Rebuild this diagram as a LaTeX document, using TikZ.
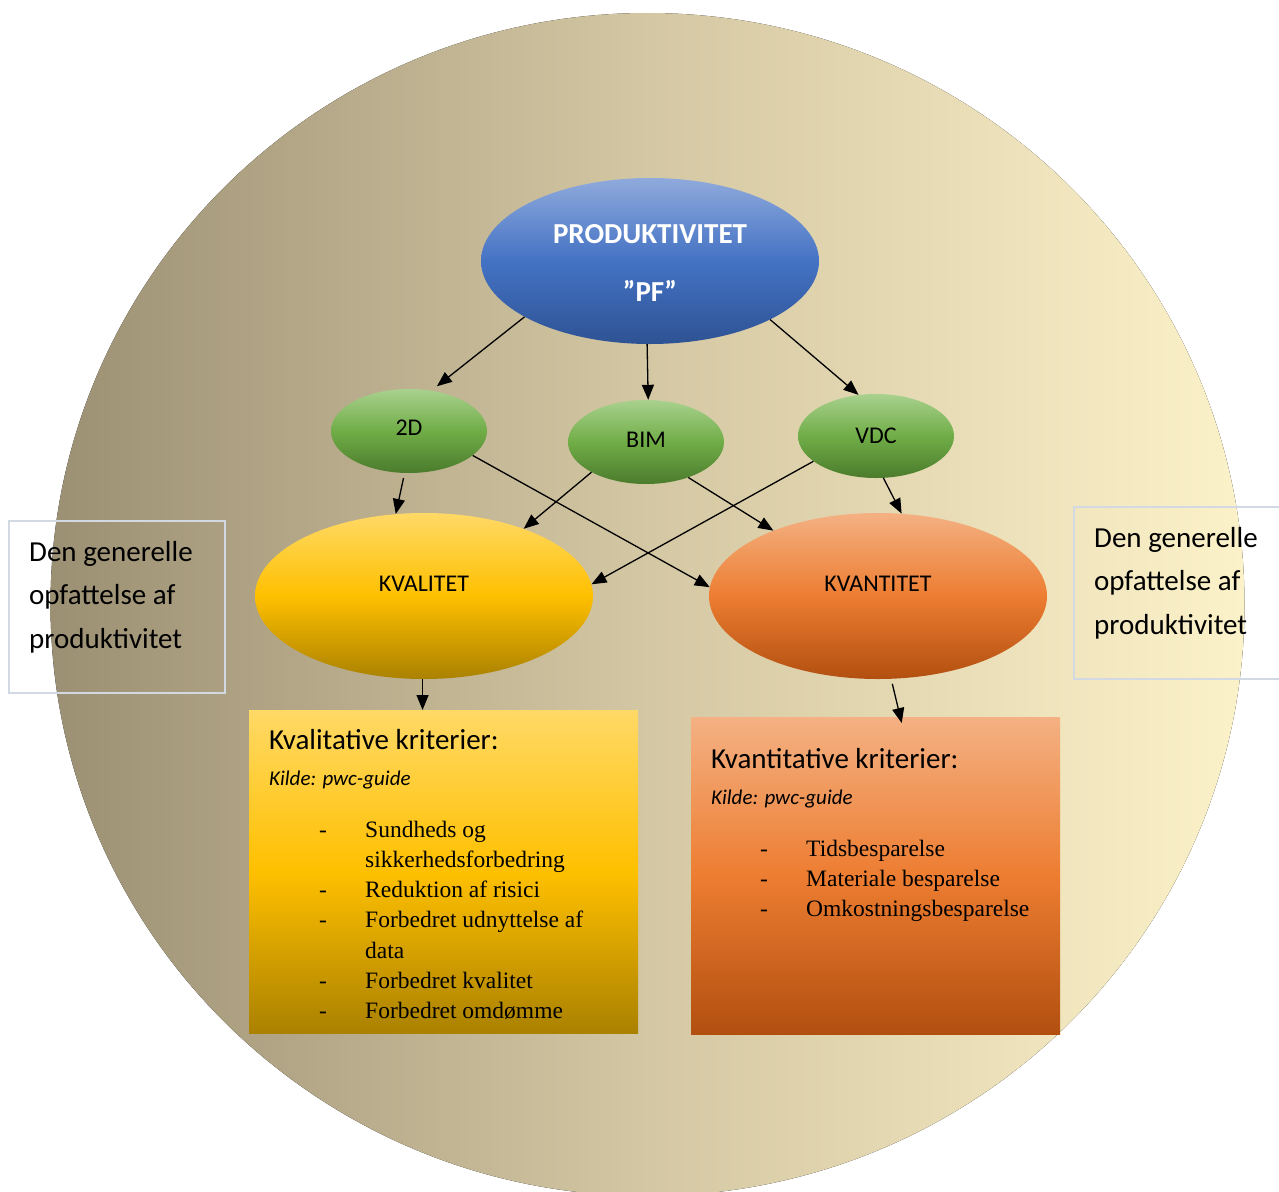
\documentclass[tikz,border=0pt]{standalone}
\usepackage{fontspec}
\setmainfont{Carlito}
\newfontfamily\listfont{Liberation Serif}
\usetikzlibrary{shapes.geometric,arrows.meta}

\definecolor{bgLeft}{HTML}{9C9074}
\definecolor{bgMid}{HTML}{D4C7A3}
\definecolor{bgRight}{HTML}{FCF2C9}
\definecolor{blueTop}{HTML}{8FAADC}
\definecolor{blueMid}{HTML}{4472C4}
\definecolor{blueBot}{HTML}{2E5394}
\definecolor{greenTop}{HTML}{A9D18E}
\definecolor{greenMid}{HTML}{70AD47}
\definecolor{greenBot}{HTML}{4B7B2C}
\definecolor{goldTop}{HTML}{FFD966}
\definecolor{goldMid}{HTML}{FFC000}
\definecolor{goldBot}{HTML}{AA8100}
\definecolor{orangeTop}{HTML}{F4B183}
\definecolor{orangeMid}{HTML}{ED7D31}
\definecolor{orangeBot}{HTML}{B24F10}
\definecolor{noteEdge}{HTML}{D3D9E3}

\begin{document}
\begin{tikzpicture}[x=1pt,y=-1pt,
  oval/.style={ellipse, inner sep=0pt, draw=none},
  bigoval/.style={oval, minimum width=338pt, minimum height=166pt},
  smalloval/.style={oval, minimum width=156pt, minimum height=84pt,
    top color=greenTop, bottom color=greenBot, middle color=greenMid,
    font=\fontsize{24}{28}\selectfont, text height=15pt},
  goldshade/.style={top color=goldTop, bottom color=goldBot, middle color=goldMid},
  orangeshade/.style={top color=orangeTop, bottom color=orangeBot, middle color=orangeMid},
  bigtext/.style={font=\fontsize{24}{28}\selectfont, text height=15pt, text depth=24pt},
  critbox/.style={rectangle, draw=none, inner sep=0pt, anchor=north west},
  notebox/.style={rectangle, draw=noteEdge, line width=1.5pt, fill=none, anchor=north west,
    minimum height=172pt},
  notetext/.style={anchor=base west, inner sep=0pt, font=\fontsize{29}{43.5}\selectfont},
  headtext/.style={anchor=base west, inner sep=0pt, font=\fontsize{29}{34}\selectfont},
  srctext/.style={anchor=base west, inner sep=0pt, font=\fontsize{21}{25}\selectfont\itshape},
  listtext/.style={anchor=base west, inner sep=0pt, font=\listfont\fontsize{23.5}{30.3}\selectfont},
  conn/.style={-{Triangle[length=15pt,width=12pt]}, line width=1.3pt, black},
]
\clip (0,0) rectangle (1279,1191);

% background disc
\fill[left color=bgLeft, right color=bgRight, middle color=bgMid]
  (647.5,604.5) ellipse [x radius=597, y radius=591.5];

% side notes
\node[notebox, minimum width=216pt] (leftnote) at (8,520) {};
\node[notetext] (lefttext) at (29,561)
  {\begin{tabular}[t]{@{}l@{}}Den generelle\\opfattelse af\\produktivitet\end{tabular}};
\node[notebox, minimum width=240pt] (rightnote) at (1073,506) {};
\node[notetext] (righttext) at (1094,547)
  {\begin{tabular}[t]{@{}l@{}}Den generelle\\opfattelse af\\produktivitet\end{tabular}};

% top concept
\node[bigoval, top color=blueTop, bottom color=blueBot, middle color=blueMid,
  text=white, font=\bfseries\fontsize{29}{58}\selectfont] (pf) at (650,261)
  {\begin{tabular}{@{}c@{}}PRODUKTIVITET\\”PF”\end{tabular}};

% methods
\node[smalloval, text depth=6pt] (n2d) at (409,431) {2D};
\node[smalloval, text depth=4pt] (bim) at (646,442) {BIM};
\node[smalloval, text depth=0pt] (vdc) at (876,436) {VDC};

% outcomes
\node[bigoval, goldshade, bigtext] (kval) at (424,596) {KVALITET};
\node[bigoval, orangeshade, bigtext] (kvan) at (878,596) {KVANTITET};

% criteria boxes
\node[critbox, goldshade, minimum width=389pt, minimum height=323pt] (kvalbox) at (249,710) {};
\node[critbox, orangeshade, minimum width=369pt, minimum height=317pt] (kvanbox) at (691,717) {};

\node[headtext] (kvalhead) at (269,749) {Kvalitative kriterier:};
\node[srctext] (kvalsrc) at (269,785) {Kilde: pwc-guide};
\node[listtext] (kvallist) at (319,837)
  {\begin{tabular}[t]{@{}p{46pt}@{}l@{}}
   - & Sundheds og\\
     & sikkerhedsforbedring\\
   - & Reduktion af risici\\
   - & Forbedret udnyttelse af\\
     & data\\
   - & Forbedret kvalitet\\
   - & Forbedret omdømme
   \end{tabular}};

\node[headtext] (kvanhead) at (711,768) {Kvantitative kriterier:};
\node[srctext] (kvansrc) at (711,804) {Kilde: pwc-guide};
\node[listtext] (kvanlist) at (760,856)
  {\begin{tabular}[t]{@{}p{46pt}@{}l@{}}
   - & Tidsbesparelse\\
   - & Materiale besparelse\\
   - & Omkostningsbesparelse
   \end{tabular}};

% connectors
\draw[conn, shorten >=7pt] (pf.204) -- (n2d.61);
\draw[conn] (pf.268) -- (bim.87);
\draw[conn] (pf.334) -- (vdc.113);
\draw[conn, shorten <=5pt] (n2d.264) -- (kval.109);
\draw[conn] (n2d.339) -- (kvan.177);
\draw[conn] (bim.209) -- (kval.34);
\draw[conn] (bim.320) -- (kvan.148);
\draw[conn] (vdc.202) -- (kval.4);
\draw[conn] (vdc.280) -- (kvan.74);
\draw[conn] (kval.269) -- (kval.269 |- kvalbox.north);
\draw[conn, shorten <=5pt] (kvan.279) -- ([shift={(26,6)}]kvanbox.north);
\end{tikzpicture}
\end{document}
